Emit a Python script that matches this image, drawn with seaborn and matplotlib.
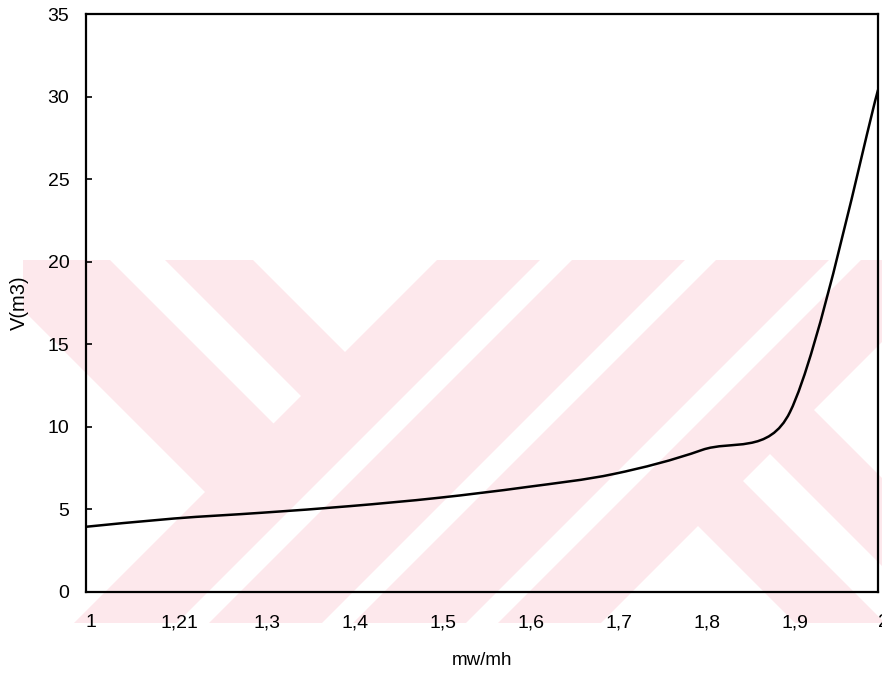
import numpy as np
import pandas as pd
import matplotlib
matplotlib.use("Agg")
import matplotlib.pyplot as plt
from matplotlib.path import Path
from matplotlib.patches import PathPatch, Rectangle, Polygon
from matplotlib.transforms import ScaledTranslation
import seaborn as sns

# Series: tank volume against the mw/mh ratio (categorical axis)
ratio_labels = ["1", "1,21", "1,3", "1,4", "1,5", "1,6", "1,7", "1,8", "1,9", "2"]
volume_m3 = [3.95, 4.45, 4.8, 5.2, 5.7, 6.35, 7.15, 8.6, 10.9, 30.4]
y_ticks = [0, 5, 10, 15, 20, 25, 30, 35]

sns.set_theme(style="white")
plt.rcParams["font.family"] = ["Liberation Sans", "DejaVu Sans"]
plt.rcParams["text.color"] = "black"
plt.rcParams["axes.labelcolor"] = "black"
plt.rcParams["xtick.color"] = "black"
plt.rcParams["ytick.color"] = "black"

W, H = 882, 675
fig = plt.figure(figsize=(W / 100, H / 100), dpi=100)
fig.patch.set_facecolor("white")

# ---- background stamp: pale pink field cut by 45-degree white bands ----
bg = fig.add_axes([0, 0, 1, 1], zorder=0)
bg.set_xlim(0, W)
bg.set_ylim(H, 0)
bg.axis("off")
pink = "#fde8ec"
field = Rectangle((23, 260), W - 23, 363, facecolor=pink, edgecolor="none")
bg.add_patch(field)


def diag_region(s0, s1, d0, d1):
    """Region s0<=x+y<=s1, d0<=x-y<=d1 in pixel space."""
    corners = [(s0, d0), (s1, d0), (s1, d1), (s0, d1)]
    return [((s + d) / 2, (s - d) / 2) for s, d in corners]


BIG = 3000
white_cuts = [
    (-BIG, 697, -BIG, -287),
    (-BIG, 697, -150, -95),
    (-BIG, 697, -7, BIG),
    (800, 832, -BIG, BIG),
    (945, 976, -BIG, BIG),
    (1089, 1121, -BIG, BIG),
    (1224, BIG, -BIG, 172),
    (1224, BIG, 262, 316),
    (1224, BIG, 404, BIG),
]
for cut in white_cuts:
    poly = Polygon(diag_region(*cut), closed=True, facecolor="white", edgecolor="none")
    bg.add_patch(poly)
    poly.set_clip_path(field)

# ---- main chart ----
ax = fig.add_axes([86 / W, 1 - 592 / H, (878 - 86) / W, (592 - 14) / H], zorder=1)
ax.set_facecolor("none")

pos = np.arange(len(ratio_labels))
df = pd.DataFrame({"pos": pos, "volume": volume_m3})
sns.lineplot(data=df, x="pos", y="volume", ax=ax, color="black", linewidth=0)
ax.set_xlim(0, len(ratio_labels) - 1)
ax.set_ylim(0, 35)

# Smoothed line (Bezier through each point, control arms limited to half a segment)
line = ax.get_lines()[0]
pts = ax.transData.transform(line.get_xydata())
n = len(pts)
verts = [pts[0]]
codes = [Path.MOVETO]
for i in range(n - 1):
    p0 = pts[max(i - 1, 0)]
    p1 = pts[i]
    p2 = pts[i + 1]
    p3 = pts[min(i + 2, n - 1)]
    seg = np.hypot(*(p2 - p1))
    a = (p2 - p0) / 6.0
    b = (p3 - p1) / 6.0
    la, lb = np.hypot(*a), np.hypot(*b)
    if la > seg / 2:
        a *= (seg / 2) / la
    if lb > seg / 2:
        b *= (seg / 2) / lb
    verts += [p1 + a, p2 - b, p2]
    codes += [Path.CURVE4] * 3
verts_data = ax.transData.inverted().transform(np.array(verts))
curve = PathPatch(Path(verts_data, codes), fill=False, edgecolor="black",
                  linewidth=1.8, transform=ax.transData,
                  capstyle="round", joinstyle="round")
ax.add_patch(curve)

ax.set_xticks(pos)
ax.set_xticklabels(ratio_labels)
ax.set_yticks(y_ticks)
ax.tick_params(axis="x", bottom=False, length=0, pad=16, labelsize=14)
ax.tick_params(axis="y", left=True, direction="in", length=4, width=1.2,
               pad=12, labelsize=14)
shift = ScaledTranslation(5 / 100, 0, fig.dpi_scale_trans)
for lab in ax.get_xticklabels():
    lab.set_transform(lab.get_transform() + shift)

for side in ["left", "right", "top", "bottom"]:
    ax.spines[side].set_visible(True)
    ax.spines[side].set_color("black")
    ax.spines[side].set_linewidth(1.6)
ax.grid(False)

ax.set_xlabel("mw/mh", fontsize=13.5)
ax.set_ylabel("V(m3)", fontsize=14.5)
ax.xaxis.set_label_coords(0.5, -0.104)
ax.yaxis.set_label_coords(-0.072, 0.5)

fig.savefig("out.png", dpi=100, facecolor="white")
